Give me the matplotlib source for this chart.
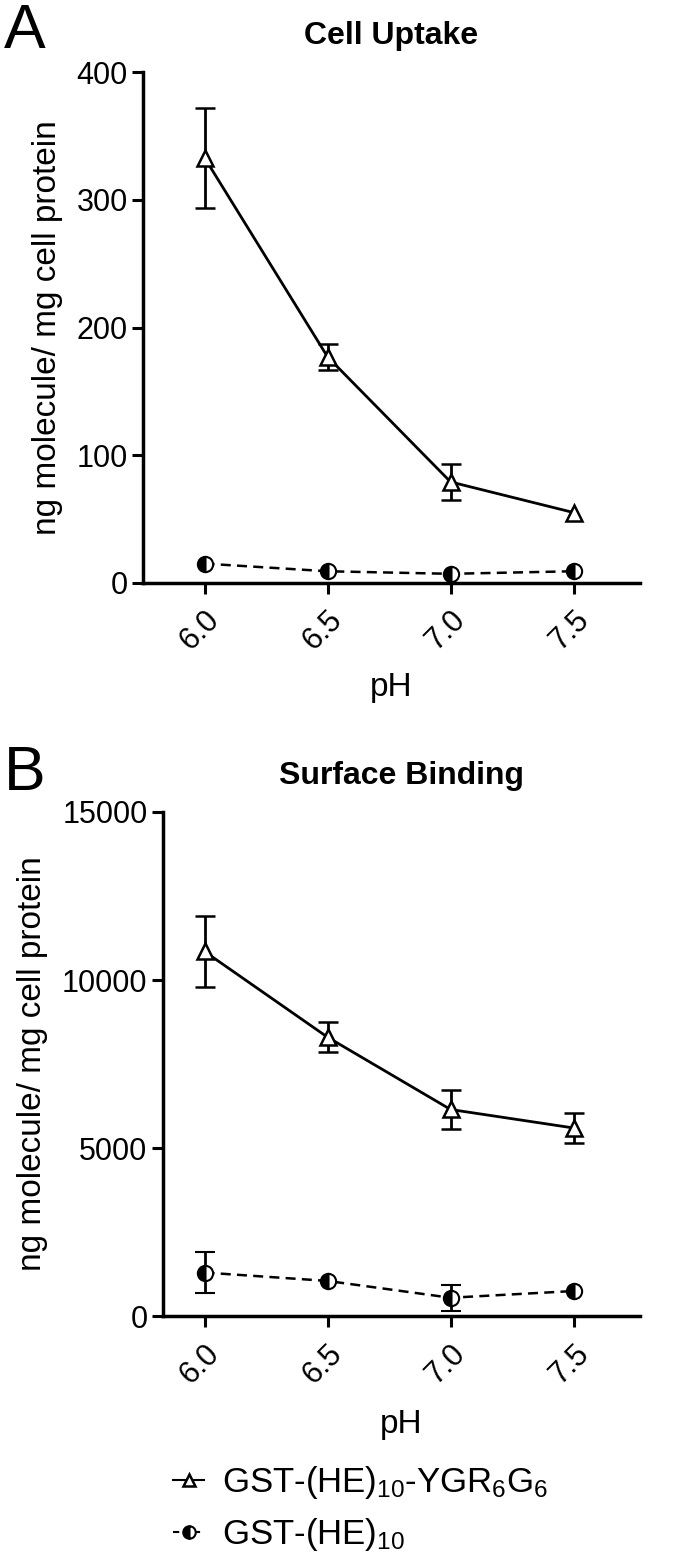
import matplotlib
matplotlib.use("Agg")
import matplotlib.pyplot as plt
from matplotlib.lines import Line2D
import numpy as np

plt.rcParams['font.family'] = ['Liberation Sans', 'DejaVu Sans']
plt.rcParams['mathtext.fontset'] = 'custom'
plt.rcParams['mathtext.rm'] = 'Liberation Sans'
plt.rcParams['mathtext.it'] = 'Liberation Sans:italic'
plt.rcParams['mathtext.bf'] = 'Liberation Sans:bold'

ph = [6.0, 6.5, 7.0, 7.5]
ph_labels = ['6.0', '6.5', '7.0', '7.5']

# panel A: cell uptake (nan = no visible error bar)
uptake_tri = [333, 177, 79, 55]
uptake_tri_err = [39, 10, 14, np.nan]
uptake_circ = [15, 9, 7, 9]
uptake_circ_err = [np.nan, np.nan, np.nan, np.nan]

# panel B: surface binding
bind_tri = [10850, 8300, 6150, 5600]
bind_tri_err = [1050, 450, 580, 450]
bind_circ = [1300, 1050, 550, 750]
bind_circ_err = [600, np.nan, 380, np.nan]

name_tri = r'GST-(HE)$_\mathrm{10}$-YGR$_\mathrm{6}$G$_\mathrm{6}$'
name_circ = r'GST-(HE)$_\mathrm{10}$'

fig = plt.figure(figsize=(6.78, 15.54), dpi=100)
axA = fig.add_axes([0.211, 0.625, 0.733, 0.3285])
axB = fig.add_axes([0.240, 0.153, 0.704, 0.3245])

tri_style = dict(color='black', marker='^', markerfacecolor='white',
                 markeredgewidth=1.8)
circ_style = dict(color='black', marker='o', fillstyle='left',
                  markerfacecoloralt='white', markeredgewidth=1.5)


def draw(ax, tri, tri_err, circ, circ_err, ylim, yticks, xlim, title, xpad):
    ax.errorbar(ph, tri, yerr=tri_err, lw=2, capsize=7, capthick=2, markersize=12,
                elinewidth=2, zorder=3, **tri_style)
    ax.errorbar(ph, circ, yerr=circ_err, lw=1.8, ls='--', dashes=(4, 2.5), markersize=11,
                capsize=7, capthick=2, elinewidth=2, zorder=3, **circ_style)
    ax.set_xlim(*xlim)
    ax.set_ylim(*ylim)
    ax.set_yticks(yticks)
    ax.set_xticks(ph)
    ax.set_xticklabels(ph_labels, rotation=45, ha='right', va='top',
                       rotation_mode='anchor')
    for s in ['top', 'right']:
        ax.spines[s].set_visible(False)
    for s in ['left', 'bottom']:
        ax.spines[s].set_linewidth(2.5)
    ax.tick_params(direction='out', length=8, width=2.2, labelsize=22, pad=3)
    ax.tick_params(axis='x', pad=8)
    ax.set_xlabel('pH', fontsize=24, labelpad=xpad)
    ax.set_ylabel('ng molecule/ mg cell protein', fontsize=24, labelpad=10)
    ax.set_title(title, fontsize=23, fontweight='bold', pad=20)


draw(axA, uptake_tri, uptake_tri_err, uptake_circ, uptake_circ_err,
     (0, 400), [0, 100, 200, 300, 400], (5.75, 7.77), 'Cell Uptake', 11)
draw(axB, bind_tri, bind_tri_err, bind_circ, bind_circ_err,
     (0, 15000), [0, 5000, 10000, 15000], (5.83, 7.77), 'Surface Binding', 14)

fig.text(0.005, 0.9985, 'A', fontsize=45, va='top', ha='left')
fig.text(0.005, 0.521, 'B', fontsize=45, va='top', ha='left')

handles = [Line2D([], [], lw=1.5, markersize=9, **tri_style),
           Line2D([], [], lw=1.5, ls='--', dashes=(3, 2), markersize=9, **circ_style)]
fig.legend(handles, [name_tri, name_circ], loc='upper left',
           bbox_to_anchor=(0.255, 0.058), frameon=False, fontsize=25,
           handlelength=0.9, handletextpad=0.5, labelspacing=0.45,
           borderaxespad=0, borderpad=0)

fig.savefig('out.png', dpi=100)
